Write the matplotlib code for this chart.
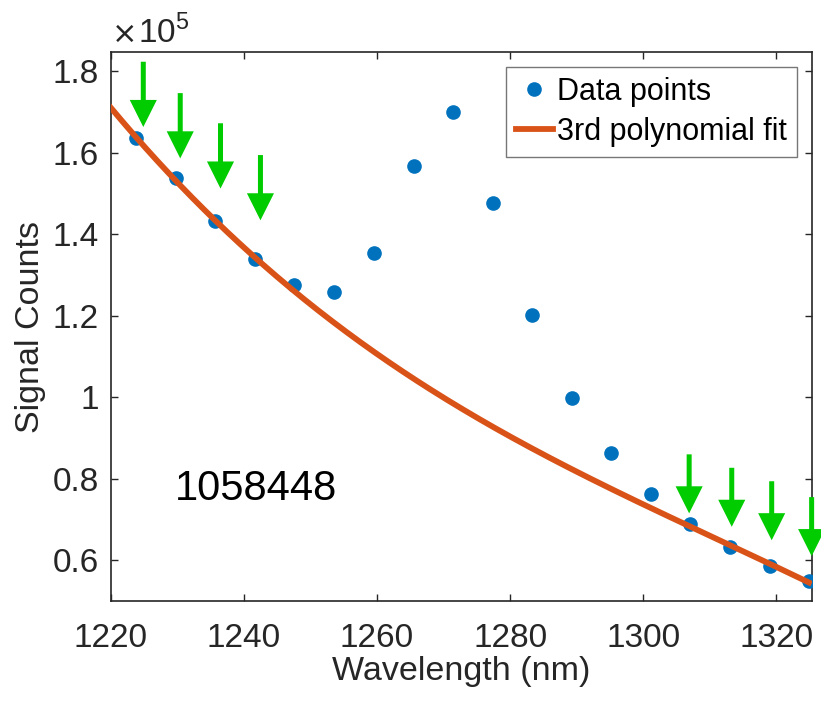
import numpy as np
import matplotlib
matplotlib.use("Agg")
from matplotlib import pyplot as plt
from matplotlib.ticker import FuncFormatter

plt.rcParams['font.family'] = ['Liberation Sans', 'DejaVu Sans']
plt.rcParams['mathtext.fontset'] = 'custom'
plt.rcParams['mathtext.rm'] = 'Liberation Sans'

# measured spectrum
wavelength = [1223.8, 1229.8, 1235.7, 1241.7, 1247.6, 1253.6, 1259.5, 1265.5, 1271.4,
              1277.4, 1283.3, 1289.3, 1295.2, 1301.2, 1307.1, 1313.1, 1319.0, 1324.9]
counts = [163500, 153800, 143200, 134000, 127500, 125900, 135300, 156800, 169900,
          147600, 120100, 99900, 86200, 76300, 68900, 63200, 58500, 55000]

# points used for the fit (marked by arrows)
fit_idx = [0, 1, 2, 3, 14, 15, 16, 17]
arrow_x = [1224.9, 1230.45, 1236.5, 1242.5, 1306.9, 1313.3, 1319.3, 1325.3]
arrow_tip = [166300, 158600, 151200, 143400, 71500, 68200, 64900, 61000]
arrow_len = [47, 47, 47, 47, 42.5, 42.5, 42.5, 42.5]

yticks = [0.6e5, 0.8e5, 1.0e5, 1.2e5, 1.4e5, 1.6e5, 1.8e5]
xticks = [1220, 1240, 1260, 1280, 1300, 1320]
note = '1058448'

BLUE = '#0072BD'
ORANGE = '#D95319'
GREEN = '#00CC00'
DARK = '#262626'

wl = np.array(wavelength)
ct = np.array(counts)
coef = np.polyfit(wl[fit_idx], ct[fit_idx], 3)
xf = np.linspace(1220, wl[-1], 300)
yf = np.polyval(coef, xf)

fig = plt.figure(figsize=(8.21, 7.03), dpi=100)
ax = fig.add_axes([0.1348, 0.1451, 0.8546, 0.7809])

ax.plot(wl, ct, 'o', color=BLUE, markersize=9.5, label='Data points', zorder=3)
ax.plot(xf, yf, '-', color=ORANGE, linewidth=4.2, label='3rd polynomial fit', zorder=4)

for x, y, L in zip(arrow_x, arrow_tip, arrow_len):
    ax.annotate('', xy=(x, y), xytext=(0, L), textcoords='offset points',
                arrowprops=dict(facecolor=GREEN, edgecolor='none', width=3.6,
                                headwidth=19.5, headlength=19.5),
                annotation_clip=False, zorder=5)

ax.text(1229.6, 0.747e5, note, fontsize=30, color='black', ha='left', va='baseline')

ax.set_xlim(1220, 1325.4)
ax.set_ylim(0.5e5, 1.847e5)
ax.set_xticks(xticks)
ax.set_yticks(yticks)
ax.yaxis.set_major_formatter(FuncFormatter(lambda v, p: '%g' % round(v / 1e5, 4)))

ax.tick_params(direction='in', length=5, width=1.0, top=True, right=True,
               labelsize=24, colors=DARK)
ax.tick_params(axis='x', pad=15.5)
ax.tick_params(axis='y', pad=8.5)
for s in ax.spines.values():
    s.set_color(DARK)
    s.set_linewidth(1.2)

ax.set_xlabel('Wavelength (nm)', fontsize=24.5, color=DARK, labelpad=1.5)
ax.set_ylabel('Signal Counts', fontsize=24.5, color=DARK, labelpad=5)

# exponent label above the y axis
ax.text(0.002, 1.0164, '\u00d7', transform=ax.transAxes, fontsize=22,
        family='DejaVu Sans', color=DARK, ha='left', va='baseline')
ax.text(0.039, 1.0164, r'$10^{5}$', transform=ax.transAxes, fontsize=24,
        color=DARK, ha='left', va='baseline')

leg = ax.legend(loc='upper right', fontsize=22, frameon=True, fancybox=False,
                borderaxespad=0.5, handlelength=1.2, handletextpad=0.15,
                borderpad=0.32, labelspacing=0.32)
leg.get_frame().set_edgecolor('#555555')
leg.get_frame().set_linewidth(1.0)

fig.savefig('out.png', dpi=100)
